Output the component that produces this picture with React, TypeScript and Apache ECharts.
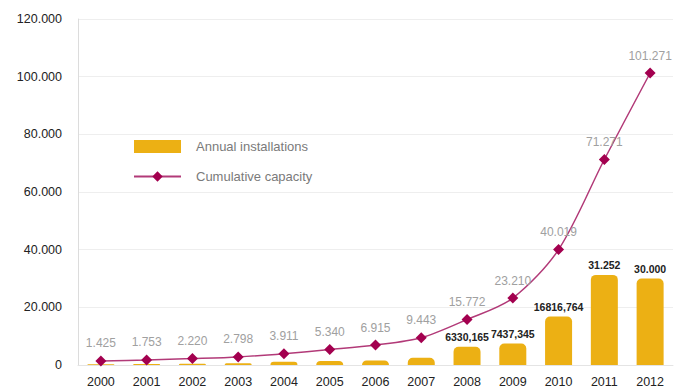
import React, { useEffect, useRef } from "react";
import * as echarts from "echarts";

const years = ["2000", "2001", "2002", "2003", "2004", "2005", "2006", "2007", "2008", "2009", "2010", "2011", "2012"];
const annualInstallations = [280, 330, 470, 580, 1110, 1430, 1575, 2528, 6330.165, 7437.345, 16816.764, 31252, 30000];
const annualLabels = ["", "", "", "", "", "", "", "", "6330,165", "7437,345", "16816,764", "31.252", "30.000"];
const cumulativeCapacity = [1425, 1753, 2220, 2798, 3911, 5340, 6915, 9443, 15772, 23210, 40019, 71271, 101271];

const fmt = (v: number) => {
  const s = Math.round(v).toString();
  return s.replace(/\B(?=(\d{3})+(?!\d))/g, ".");
};

const FONT = "Liberation Sans, Arial, sans-serif";

export default function App() {
  const ref = useRef<HTMLDivElement>(null);
  useEffect(() => {
    if (!ref.current) return;
    const chart = echarts.init(ref.current, undefined, { renderer: "svg" });
    chart.setOption({
      animation: false,
      backgroundColor: "#ffffff",
      grid: { left: 78, right: 4, top: 19, bottom: 25 },
      legend: {
        orient: "vertical",
        left: 128,
        top: 135,
        itemWidth: 47,
        itemHeight: 13,
        itemGap: 17,
        textStyle: { color: "#7a7a7a", fontSize: 13, fontFamily: FONT, padding: [0, 0, 0, 10] },
        data: [
          { name: "Annual installations", icon: "rect" },
          { name: "Cumulative capacity" },
        ],
      },
      xAxis: {
        type: "category",
        data: years,
        boundaryGap: true,
        axisLine: { show: true, lineStyle: { color: "#e4e4e4" } },
        axisTick: { show: false },
        axisLabel: { color: "#222", fontSize: 12.5, margin: 10, fontFamily: FONT },
      },
      yAxis: {
        type: "value",
        min: 0,
        max: 120000,
        interval: 20000,
        axisLine: { show: true, lineStyle: { color: "#dcdcdc" } },
        axisTick: { show: false },
        splitLine: { lineStyle: { color: "#eeeeee" } },
        axisLabel: {
          color: "#222",
          fontSize: 12.5,
          margin: 16,
          fontFamily: FONT,
          formatter: (v: number) => fmt(v),
        },
      },
      series: [
        {
          name: "Annual installations",
          type: "bar",
          data: annualInstallations,
          barWidth: 27,
          itemStyle: { color: "#ECB014", borderRadius: [5, 5, 0, 0] },
          label: {
            show: true,
            position: "top",
            distance: 4,
            color: "#222",
            fontSize: 10.5,
            fontWeight: "bold",
            fontFamily: FONT,
            formatter: (p: any) => annualLabels[p.dataIndex],
          },
          z: 2,
        },
        {
          name: "Cumulative capacity",
          type: "line",
          data: cumulativeCapacity,
          smooth: 0.3,
          symbol: "diamond",
          symbolSize: 11,
          lineStyle: { color: "#B23A78", width: 1.5 },
          itemStyle: { color: "#A3004F" },
          label: {
            show: true,
            position: "top",
            distance: 6,
            color: "#a0a0a0",
            fontSize: 12,
            fontFamily: FONT,
            formatter: (p: any) => fmt(p.value),
          },
          z: 3,
        },
      ],
    });
    return () => chart.dispose();
  }, []);
  return <div ref={ref} style={{ width: 677, height: 390, position: "absolute", left: 0, top: 0 }} />;
}
